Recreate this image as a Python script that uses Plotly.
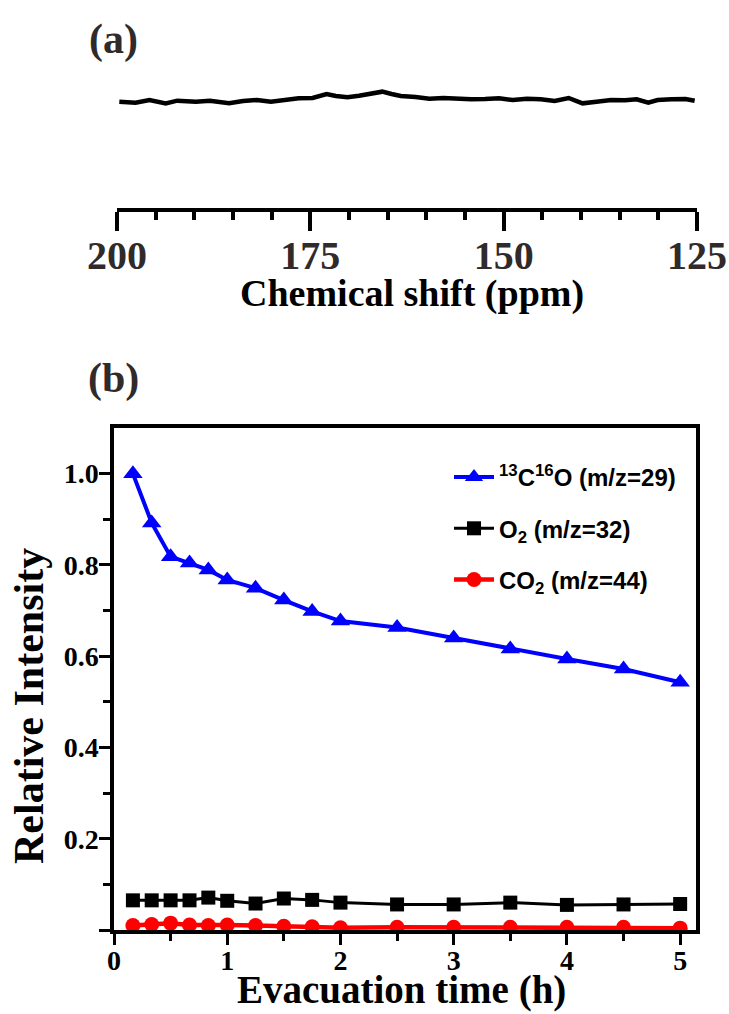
import plotly.graph_objects as go

W, H = 729, 1014

# ---------- Panel (a): NMR spectrum ----------
ppm = [199.7, 197.6, 195.8, 193.7, 192.2, 189.8, 188.0, 186.7, 185.5, 183.7,
       181.9, 180.1, 178.9, 176.5, 174.7, 172.9, 171.7, 170.2, 168.7, 167.5,
       165.7, 164.5, 163.3, 161.4, 159.6, 157.8, 156.0, 154.2, 152.4, 150.6,
       148.8, 147.0, 145.2, 143.4, 141.6, 139.8, 138.0, 136.1, 134.3, 132.8,
       131.3, 130.1, 128.3, 126.5, 125.3]
nmr_intensity = [-5, -8, 0, -10, -2, -5, -2, -6, -10, -3,
                 0, -5, -2, 5, 6, 18, 12, 8, 13, 18,
                 25, 18, 12, 9, 4, 6, 3, 2, 3, 5,
                 0, 4, 2, -3, 6, -10, -5, 0, -1, 2,
                 -8, 0, 2, 3, -2]
ppm_ticks = [200, 175, 150, 125]
ppm_minor = [195, 190, 185, 180, 170, 165, 160, 155, 145, 140, 135, 130]

# ---------- Panel (b): evacuation ----------
time_h = [0.167, 0.333, 0.5, 0.667, 0.833, 1.0, 1.25, 1.5, 1.75, 2.0,
          2.5, 3.0, 3.5, 4.0, 4.5, 5.0]
co13 = [1.0, 0.892, 0.818, 0.804, 0.789, 0.767, 0.749, 0.723, 0.698, 0.677,
        0.663, 0.640, 0.616, 0.594, 0.572, 0.543]
o2 = [0.065, 0.065, 0.065, 0.065, 0.071, 0.064, 0.058, 0.069, 0.066, 0.060,
      0.056, 0.056, 0.060, 0.055, 0.056, 0.057]
co2 = [0.010, 0.012, 0.015, 0.011, 0.010, 0.011, 0.010, 0.008, 0.007, 0.005,
       0.006, 0.006, 0.006, 0.006, 0.006, 0.004]
names = ["<sup>13</sup>C<sup>16</sup>O (m/z=29)", "O<sub>2</sub> (m/z=32)", "CO<sub>2</sub> (m/z=44)"]
y_ticks = [0, 0.2, 0.4, 0.6, 0.8, 1.0]
y_ticktext = ["", "0.2", "0.4", "0.6", "0.8", "1.0"]
y_minor = [0.1, 0.3, 0.5, 0.7, 0.9]
x_ticks = [0, 1, 2, 3, 4, 5]
x_minor = [0.5, 1.5, 2.5, 3.5, 4.5]

SERIF = "Liberation Serif, Times New Roman, serif"
SANS = "Liberation Sans, Arial, sans-serif"
DARK = "#302a2a"

def px_x(p):
    return p / W

def px_y(p):
    return 1 - p / H

fig = go.Figure()

fig.add_trace(go.Scatter(x=ppm, y=nmr_intensity, mode="lines",
                         line=dict(color="black", width=4.5),
                         xaxis="x2", yaxis="y2", showlegend=False))

fig.add_trace(go.Scatter(x=time_h, y=co13, mode="lines+markers", name=names[0],
                         legendgroup="a",
                         line=dict(color="#0000ff", width=4),
                         marker=dict(symbol="triangle-up", size=17, color="#0000ff")))
fig.add_trace(go.Scatter(x=time_h, y=o2, mode="lines+markers", name=names[1],
                         legendgroup="b",
                         line=dict(color="black", width=3),
                         marker=dict(symbol="square", size=14, color="black")))
fig.add_trace(go.Scatter(x=time_h, y=co2, mode="lines+markers", name=names[2],
                         legendgroup="c",
                         line=dict(color="#ff0000", width=4.5),
                         marker=dict(symbol="circle", size=15, color="#ff0000")))

fig.update_layout(
    width=W, height=H,
    margin=dict(l=0, r=0, t=0, b=0),
    paper_bgcolor="white", plot_bgcolor="white",
    showlegend=True,
    legend=dict(x=px_x(449), y=px_y(455), xanchor="left", yanchor="top",
                bgcolor="rgba(0,0,0,0)", borderwidth=0,
                font=dict(family=SANS, size=24, color="black", weight="bold"),
                tracegroupgap=17, itemwidth=40),
    xaxis=dict(domain=[px_x(114), px_x(696)], range=[0, 5.14], anchor="y",
               showline=True, linewidth=3.5, linecolor="black", mirror=True,
               showgrid=False, zeroline=False,
               tickvals=x_ticks, ticks="outside", ticklen=11, tickwidth=3, tickcolor="black",
               minor=dict(tickvals=x_minor, ticks="outside", ticklen=7, tickwidth=3, tickcolor="black"),
               ticklabelstandoff=-8,
               tickfont=dict(family=SERIF, size=28, color="black", weight="bold"),
               automargin=False),
    yaxis=dict(domain=[px_y(930), px_y(428)], range=[0, 1.1], anchor="x",
               showline=True, linewidth=3.5, linecolor="black", mirror=True,
               showgrid=False, zeroline=False,
               tickvals=y_ticks, ticktext=y_ticktext, ticks="outside", ticklen=11,
               tickwidth=3, tickcolor="black",
               minor=dict(tickvals=y_minor, ticks="outside", ticklen=7, tickwidth=3, tickcolor="black"),
               ticklabelstandoff=-5,
               tickfont=dict(family=SERIF, size=28, color="black", weight="bold"),
               automargin=False),
    xaxis2=dict(domain=[px_x(117), px_x(697)], range=[200, 125], anchor="y2",
                showline=True, linewidth=3.5, linecolor="black", mirror=False,
                showgrid=False, zeroline=False,
                tickvals=ppm_ticks, ticks="outside", ticklen=19, tickwidth=3.5, tickcolor="black",
                minor=dict(tickvals=ppm_minor, ticks="outside", ticklen=8, tickwidth=3.5, tickcolor="black"),
                ticklabelstandoff=-10,
                tickfont=dict(family=SERIF, size=40, color=DARK, weight="bold"),
                automargin=False),
    yaxis2=dict(domain=[px_y(208), px_y(60)], range=[-324, 120], anchor="x2",
                visible=False, showgrid=False, zeroline=False),
    annotations=[
        dict(text="Chemical shift (ppm)", x=px_x(412), y=px_y(294), xref="paper", yref="paper",
             showarrow=False, xanchor="center", yanchor="middle",
             font=dict(family=SERIF, size=38, color="black", weight="bold")),
        dict(text="Evacuation time (h)", x=px_x(401), y=0, xref="paper", yref="paper",
             showarrow=False, xanchor="center", yanchor="bottom",
             font=dict(family=SERIF, size=39, color="black", weight="bold")),
        dict(text="Relative Intensity", x=px_x(29), y=px_y(706), xref="paper", yref="paper",
             showarrow=False, xanchor="center", yanchor="middle", textangle=-90,
             font=dict(family=SERIF, size=42, color="black", weight="bold")),
        dict(text="(a)", x=px_x(113), y=px_y(40), xref="paper", yref="paper",
             showarrow=False, xanchor="center", yanchor="middle",
             font=dict(family=SERIF, size=42, color=DARK, weight="bold")),
        dict(text="(b)", x=px_x(113), y=px_y(378), xref="paper", yref="paper",
             showarrow=False, xanchor="center", yanchor="middle",
             font=dict(family=SERIF, size=42, color=DARK, weight="bold")),
    ],
)

fig.write_html("out.html")
